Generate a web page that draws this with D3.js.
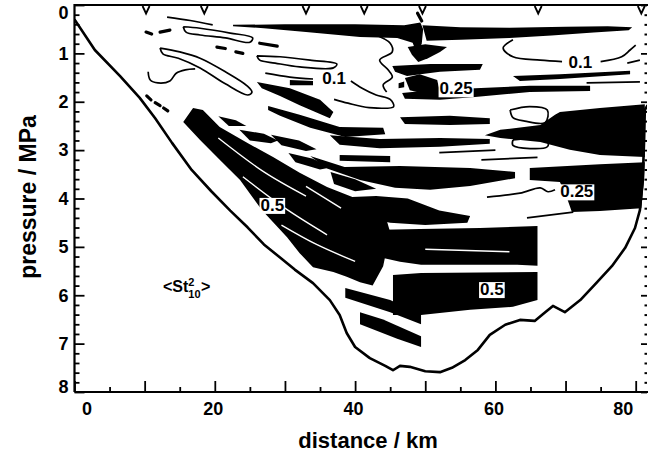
<!DOCTYPE html>
<html>
<head>
<meta charset="utf-8">
<script src="https://cdn.jsdelivr.net/npm/d3@7"></script>
<style>
  body { margin: 0; background: #fff; }
  svg { display: block; }
  text { font-family: "Liberation Sans", Arial, Helvetica, sans-serif; font-weight: bold; }
</style>
</head>
<body>
<div id="chart"></div>
<script>
// ---- data (distance km, pressure MPa) ----
const xTickLabels = [0, 20, 40, 60, 80];
const yTickLabels = [0, 1, 2, 3, 4, 5, 6, 7, 8];
const stations = [10.2, 18.5, 33.0, 41.3, 49.6, 66.1, 80.8];

const bottomLine = [[0,0.3],[2.9,0.93],[6.5,1.47],[9.3,1.92],[11.5,2.34],[13.9,2.85],[16.7,3.41],[19.5,3.85],
  [22.2,4.25],[24.7,4.6],[27,4.95],[29.3,5.22],[31.4,5.47],[34.0,5.75],[36.4,6.10],[37.8,6.41],[38.8,6.78],
  [40.0,7.07],[42.1,7.30],[44.3,7.46],[45.4,7.55],[46.4,7.46],[47.8,7.48],[50.0,7.57],[52.1,7.59],[53.8,7.50],
  [55.7,7.34],[57.5,7.13],[59.2,6.82],[61.4,6.61],[63.5,6.51],[65.6,6.53],[67.1,6.35],[68.2,6.22],[69.9,6.35],
  [72.1,6.10],[74.5,5.73],[76.6,5.40],[78.5,5.02],[79.9,4.61],[80.6,4.24],[81.0,3.62],[81.2,2.79],[81.3,2.17],[81.7,2.07]];

const blackAreas = [
  [[22.6,0.41],[30,0.40],[40,0.40],[47,0.42],[49.3,0.36],[49.7,0.5],[49.5,0.8],[48.8,1.0],[48.2,0.78],[46,0.68],[40.7,0.66],[33,0.56],[27,0.48],[22.6,0.44]],
  [[49.6,0.42],[55,0.46],[62,0.47],[70,0.45],[76,0.44],[79.5,0.46],[79,0.52],[74,0.57],[68,0.63],[62,0.68],[55,0.72],[50.2,0.74]],
  [[47.5,0.87],[50,0.81],[53.1,0.87],[52.1,0.97],[50.4,1.10],[49,1.18],[48.1,1.03]],
  [[45.3,1.26],[50.7,1.22],[58.2,1.22],[57.8,1.34],[52.1,1.38],[47.4,1.47],[45.7,1.38]],
  [[47.1,1.51],[49.2,1.43],[51.7,1.55],[52.1,1.80],[50,1.84],[47.8,1.76]],
  [[46.2,1.62],[47,1.58],[47,1.70],[46.2,1.72]],
  [[46.7,1.82],[52.1,1.74],[57.1,1.72],[64.9,1.67],[73.5,1.67],[73.5,1.78],[64.9,1.80],[57.1,1.90],[52.1,1.96],[47.1,1.94]],
  [[62.5,1.47],[69.2,1.43],[79.2,1.36],[79.2,1.43],[69.2,1.53],[63.5,1.57]],
  [[69.2,2.21],[74.9,2.13],[81.3,2.05],[81.3,3.14],[74.9,3.10],[70.6,2.99],[66.4,2.83],[60.7,2.75],[58.5,2.69],[60.7,2.58],[66.4,2.48],[68.5,2.27]],
  [[64.9,3.37],[74.9,3.29],[81.3,3.25],[81.2,3.62],[80.8,4.2],[74.9,4.26],[70.9,4.28],[70.3,4.03],[69.2,3.66],[64.9,3.62]],
  [[46.4,2.32],[53.5,2.29],[59.2,2.34],[59.2,2.46],[53.5,2.48],[47.1,2.46]],
  [[26.0,1.59],[30.7,1.72],[35.0,1.96],[36.9,2.21],[36.4,2.34],[32.1,2.07],[29.3,1.88],[26.7,1.72]],
  [[30.7,1.55],[34,1.57],[34,1.66],[30.7,1.66]],
  [[27.6,2.09],[32.1,2.27],[37.8,2.52],[44.0,2.54],[44.3,2.67],[38.6,2.73],[33.6,2.54],[29.3,2.29],[27.6,2.17]],
  [[36.4,2.69],[43.5,2.77],[52.1,2.75],[59.2,2.77],[59.2,2.87],[52.1,2.93],[43.5,2.96],[37.8,2.89]],
  [[37.8,3.10],[45,3.12],[45,3.25],[37.8,3.22]],
  [[33.6,3.12],[38.5,3.35],[46.4,3.33],[56.4,3.37],[62.8,3.45],[62.8,3.58],[56.4,3.74],[50.7,3.82],[45.7,3.78],[40.7,3.62],[36,3.38]],
  [[37.8,3.98],[43,3.95],[47.5,4.0],[52,4.25],[56.4,4.36],[56,4.5],[50,4.55],[45,4.5],[40,4.35],[37.8,4.25]],
  [[38.5,4.69],[42.1,4.65],[49.2,4.63],[57.8,4.61],[66.0,4.57],[66.0,5.39],[63.1,5.37],[49.4,5.37],[46.4,5.31],[42.1,5.17],[38.5,5.02]],
  [[45.4,5.58],[49.4,5.54],[66.0,5.52],[66.0,6.10],[62.5,6.24],[56.4,6.30],[49.4,6.41],[45.4,6.41]],
  [[38.6,5.85],[45,6.1],[49.4,6.4],[49.4,6.6],[45,6.35],[38.6,6.05]],
  [[40.7,6.35],[44,6.5],[49.4,6.85],[49.4,7.07],[46,6.9],[40.7,6.6]],
  [[16.9,2.13],[18.3,2.17],[20.7,2.52],[24.6,2.85],[28.3,3.14],[32.1,3.47],[36,3.76],[40.7,4.03],[44,4.2],[45,4.7],[44,5.4],[42.5,5.8],
   [40.7,5.73],[38.8,5.62],[36.9,5.52],[34,5.42],[32.1,5.13],[30.3,4.8],[26.7,4.24],[23.6,3.62],[20.7,3.2],[17.9,2.79],[15.5,2.42]],
  [[20.5,2.3],[23,2.38],[24.5,2.5],[22,2.5]],
  [[23.5,2.58],[27,2.66],[29,2.8],[28,2.86],[25,2.8]],
  [[28,2.68],[32,2.8],[34.5,2.98],[33,3.02],[29.5,2.9]],
  [[30.5,3.06],[34,3.18],[36.5,3.36],[35,3.4],[31.5,3.25]],
  [[36.5,3.45],[40,3.6],[43,3.8],[40,3.85],[37,3.7]]
];

const lines01 = [
  [[13.2,0.25],[16.5,0.32],[19.7,0.41]],
  [[15.5,0.45],[17.9,0.48],[22.2,0.58],[25.4,0.68],[25,0.77],[21.5,0.68],[17.9,0.62],[15.9,0.56],[15.5,0.45]],
  [[12.2,0.89],[15,0.97],[17.9,1.10],[21.5,1.38],[24.6,1.67],[25.3,1.80],[24.7,1.86],[21.5,1.63],[17.9,1.30],[14.8,1.10],[12.6,1.01],[12.2,0.89]],
  [[10.5,1.38],[10.8,1.55],[11.9,1.61],[13.6,1.57],[14.5,1.41],[15.8,1.34],[17.2,1.32]],
  [[26,1.05],[29.3,1.07],[33.6,1.14],[37.4,1.22],[36.9,1.30],[32.1,1.28],[28.6,1.20],[26.4,1.14],[26,1.05]],
  [[27.2,1.41],[30.7,1.49],[34,1.53]],
  [[39.4,1.57],[41,1.72],[43,1.86],[45,1.95],[45.5,2.1],[42,2.12],[39,2.03],[37,1.95]],
  [[42.6,0.6],[45,0.79],[45.3,0.97],[43.5,1.14],[44.7,1.34],[45.3,1.49],[44,1.65],[44.5,1.80]],
  [[62.5,0.72],[61.1,0.89],[62.5,1.07],[66.4,1.14],[69.5,1.17]],
  [[75,1.17],[78,1.07],[79.2,0.93],[80,0.83]],
  [[73.0,1.61],[80.6,1.59]],
  [[78.8,1.20],[80.6,1.14]],
  [[62.1,2.17],[64.9,2.1],[67.4,2.17],[67.1,2.43],[64.2,2.4],[62.5,2.33],[62.1,2.17]],
  [[62.5,2.79],[67.4,2.79],[67.4,2.93],[62.5,2.9],[62.5,2.79]],
  [[58.8,3.97],[63.5,3.89],[66.4,3.78],[67.5,3.86],[68.5,3.82]],
  [[64.5,4.40],[71.1,4.28]],
  [[52,3.05],[60,3.0]],
  [[58,3.2],[66,3.15]]
];

const dashes = [
  [[10.2,0.56],[11.0,0.60]], [[12.2,0.56],[13.6,0.52]], [[20.3,0.87],[21.5,0.90]], [[23.0,0.97],[24.0,1.00]],
  [[26.4,0.79],[28.9,0.85]], [[10.3,1.88],[10.9,1.96]], [[11.5,2.02],[12.2,2.08]], [[12.7,2.13],[13.3,2.19]],
  [[48.9,0.17],[49.5,0.33]]
];

const whiteStreaks = [
  [[20.5,2.75],[27,3.45],[33,3.95]],
  [[24,3.55],[30,4.2],[36,4.75]],
  [[29.5,4.55],[34.5,4.95],[40,5.3]],
  [[33,3.75],[38,4.2]],
  [[50,5.05],[62,5.1]]
];

const levelLabels = [
  { text: "0.1", km: 37.0, p: 1.51 },
  { text: "0.25", km: 54.4, p: 1.72 },
  { text: "0.1", km: 72.1, p: 1.18 },
  { text: "0.25", km: 71.6, p: 3.85 },
  { text: "0.5", km: 28.2, p: 4.13 },
  { text: "0.5", km: 59.5, p: 5.87 }
];

// ---- chart ----
const W = 648, H = 460;
const svg = d3.select("#chart").append("svg").attr("width", W).attr("height", H);

const x = d3.scaleLinear().domain([0, 80]).range([74.5, 635.7]);
const y = d3.scaleLinear().domain([0, 8]).range([5, 392]);
const xRight = 647;

svg.append("clipPath").attr("id", "plot")
  .append("rect").attr("x", x(0)).attr("y", y(0)).attr("width", xRight - x(0)).attr("height", y(8) - y(0));

const g = svg.append("g").attr("clip-path", "url(#plot)");

const line = d3.line().x(d => x(d[0])).y(d => y(d[1]));
const smooth = d3.line().x(d => x(d[0])).y(d => y(d[1])).curve(d3.curveCatmullRom.alpha(0.5));
const area = d3.line().x(d => x(d[0])).y(d => y(d[1])).curve(d3.curveLinearClosed);

g.selectAll(".blk").data(blackAreas).enter().append("path")
  .attr("class", "blk").attr("d", area).attr("fill", "#000");

g.selectAll(".ws").data(whiteStreaks).enter().append("path")
  .attr("d", smooth).attr("fill", "none").attr("stroke", "#fff").attr("stroke-width", 1.4);

g.selectAll(".c01").data(lines01).enter().append("path")
  .attr("d", smooth).attr("fill", "none").attr("stroke", "#000").attr("stroke-width", 1.7);

g.selectAll(".dash").data(dashes).enter().append("path")
  .attr("d", line).attr("fill", "none").attr("stroke", "#000").attr("stroke-width", 3.2).attr("stroke-linecap", "round");

g.append("path").datum(bottomLine).attr("d", line)
  .attr("fill", "none").attr("stroke", "#000").attr("stroke-width", 2.6).attr("stroke-linejoin", "round");

// contour level labels
levelLabels.forEach(d => {
  const t = g.append("text").attr("x", x(d.km)).attr("y", y(d.p)).attr("dy", "0.36em")
    .attr("text-anchor", "middle").style("font-size", "17px").text(d.text);
  const b = t.node().getBBox();
  g.insert("rect", () => t.node()).attr("x", b.x - 1).attr("y", b.y + 2).attr("width", b.width + 2).attr("height", b.height - 3)
    .attr("fill", "#fff");
});

// <St^2_10> tag
const tag = svg.append("g").attr("transform", "translate(163,292)");
const t1 = tag.append("text").style("font-size", "16px").text("<St");
const w1 = t1.node().getComputedTextLength();
tag.append("text").attr("x", w1).attr("y", -6).style("font-size", "11px").text("2");
const t3 = tag.append("text").attr("x", w1).attr("y", 6).style("font-size", "11px").text("10");
const w3 = t3.node().getComputedTextLength();
tag.append("text").attr("x", w1 + w3 + 0.5).style("font-size", "16px").text(">");

// station markers on top
svg.selectAll(".st").data(stations).enter().append("path")
  .attr("d", d => `M${x(d) - 3.5},6 L${x(d)},13.5 L${x(d) + 3.5},6`)
  .attr("fill", "none").attr("stroke", "#000").attr("stroke-width", 1.8);

// axes ticks (inward)
const minorY = d3.range(0, 40).filter(i => i % 5).map(i => i / 5);
svg.append("g").attr("transform", `translate(0,${y(8)})`)
  .call(d3.axisBottom(x).tickValues(d3.range(0, 81, 10)).tickSize(-11).tickFormat(""))
  .call(s => s.select(".domain").remove()).selectAll("line").attr("stroke-width", 1.8);
svg.append("g").attr("transform", `translate(0,${y(8)})`)
  .call(d3.axisBottom(x).tickValues(d3.range(5, 81, 10)).tickSize(-5).tickFormat(""))
  .call(s => s.select(".domain").remove()).selectAll("line").attr("stroke-width", 1.8);

svg.append("g").attr("transform", `translate(${x(0)},0)`)
  .call(d3.axisLeft(y).tickValues(d3.range(0, 9)).tickSize(-10).tickFormat(""))
  .call(s => s.select(".domain").remove()).selectAll("line").attr("stroke-width", 1.8);
svg.append("g").attr("transform", `translate(${x(0)},0)`)
  .call(d3.axisLeft(y).tickValues(minorY).tickSize(-5).tickFormat(""))
  .call(s => s.select(".domain").remove()).selectAll("line").attr("stroke-width", 1.8);

svg.append("g").attr("transform", `translate(${xRight},0)`)
  .call(d3.axisRight(y).tickValues(d3.range(0, 9)).tickSize(-6).tickFormat(""))
  .call(s => s.select(".domain").remove()).selectAll("line").attr("stroke-width", 1.8);
svg.append("g").attr("transform", `translate(${xRight},0)`)
  .call(d3.axisRight(y).tickValues(minorY).tickSize(-2.5).tickFormat(""))
  .call(s => s.select(".domain").remove()).selectAll("line").attr("stroke-width", 2);

// frame
svg.append("path")
  .attr("d", `M${x(0)},${y(8)} L${x(0)},${y(0)} L${W},${y(0)}`)
  .attr("fill", "none").attr("stroke", "#000").attr("stroke-width", 2.2);
svg.append("line").attr("x1", x(0)).attr("x2", W).attr("y1", y(8)).attr("y2", y(8))
  .attr("stroke", "#000").attr("stroke-width", 2.2);

// tick labels
const xl = svg.append("g").attr("transform", `translate(0,${y(8)})`)
  .call(d3.axisBottom(x).tickValues(xTickLabels).tickSize(0).tickPadding(10).tickFormat(d3.format("d")));
xl.select(".domain").remove();
xl.selectAll("text").style("font-size", "18px").attr("fill", "#000")
  .attr("dx", d => d === 0 ? 12 : d === 80 ? -13 : -2);

const yl = svg.append("g").attr("transform", `translate(${x(0) - 6},0)`)
  .call(d3.axisLeft(y).tickValues(yTickLabels).tickSize(0).tickPadding(0).tickFormat(d3.format("d")));
yl.select(".domain").remove();
yl.selectAll("text").style("font-size", "18px").attr("fill", "#000")
  .attr("dy", d => d === 0 ? "0.75em" : d === 8 ? "0.0em" : "0.32em");

// axis titles
svg.append("text").attr("x", 368).attr("y", 448).attr("text-anchor", "middle")
  .style("font-size", "22px").text("distance / km");
svg.append("text").attr("transform", "translate(36,197) rotate(-90)").attr("text-anchor", "middle")
  .style("font-size", "23px").text("pressure / MPa");
</script>
</body>
</html>
